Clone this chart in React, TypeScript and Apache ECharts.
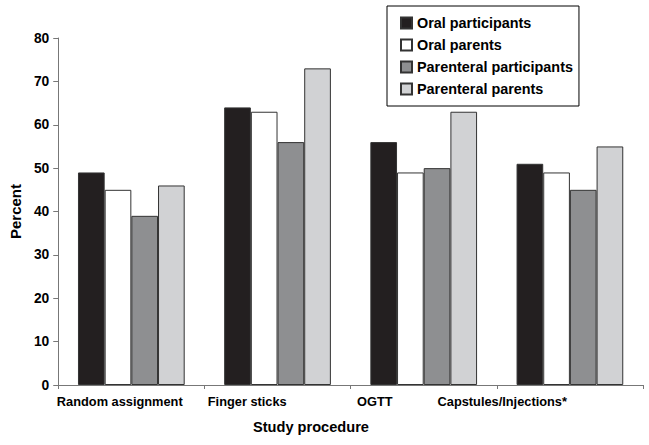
import React, { useEffect, useRef } from "react";
import * as echarts from "echarts";

const categories = ["Random assignment", "Finger sticks", "OGTT", "Capstules/Injections*"];
const seriesNames = ["Oral participants", "Oral parents", "Parenteral participants", "Parenteral parents"];
const oralParticipants = [49, 64, 56, 51];
const oralParents = [45, 63, 49, 49];
const parenteralParticipants = [39, 56, 50, 45];
const parenteralParents = [46, 73, 63, 55];
const yTicks = { min: 0, max: 80, interval: 10 };

const colors = ["#231f20", "#ffffff", "#8e8f91", "#d1d2d4"];
const FONT = "'Liberation Sans', Arial, Helvetica, sans-serif";

export default function App() {
  const ref = useRef<HTMLDivElement>(null);
  useEffect(() => {
    if (!ref.current) return;
    const chart = echarts.init(ref.current, undefined, { renderer: "svg" });
    const values = [oralParticipants, oralParents, parenteralParticipants, parenteralParents];
    chart.setOption({
      animation: false,
      backgroundColor: "#ffffff",
      textStyle: { fontFamily: FONT },
      grid: [
        { left: 55, right: 6, top: 38, bottom: 60 },
        { left: 56, width: 510, top: 38, bottom: 60 },
      ],
      legend: {
        orient: "vertical",
        left: 387,
        top: 6,
        padding: [10, 6, 10, 13],
        borderColor: "#000",
        borderWidth: 1,
        itemWidth: 11,
        itemHeight: 11,
        itemGap: 8,
        itemTextGap: 5,
        icon: "rect",
        data: seriesNames,
        textStyle: { fontFamily: FONT, fontWeight: "bold", fontSize: 14.4, color: "#000" },
      },
      xAxis: [
        {
          type: "category",
          gridIndex: 0,
          data: categories,
          axisLine: { lineStyle: { color: "#777", width: 1 } },
          axisTick: { show: true, length: 4, lineStyle: { color: "#777" } },
          axisLabel: { show: false },
        },
        {
          type: "category",
          gridIndex: 1,
          data: categories,
          axisLine: { show: false },
          axisTick: { show: false },
          axisLabel: {
            show: true,
            interval: 0,
            margin: 10,
            fontFamily: FONT,
            fontWeight: "bold",
            fontSize: 12.8,
            color: "#000",
          },
          name: "Study procedure",
          nameLocation: "middle",
          nameGap: 34,
          nameTextStyle: { fontFamily: FONT, fontWeight: "bold", fontSize: 14.6, color: "#000" },
        },
      ],
      yAxis: [
        {
          type: "value",
          gridIndex: 0,
          min: yTicks.min,
          max: yTicks.max,
          interval: yTicks.interval,
          splitLine: { show: false },
          axisLine: { show: true, lineStyle: { color: "#777", width: 1 } },
          axisTick: { show: true, length: 5, lineStyle: { color: "#777" } },
          axisLabel: { margin: 9, fontFamily: FONT, fontWeight: "bold", fontSize: 13.8, color: "#000" },
          name: "Percent",
          nameLocation: "middle",
          nameGap: 35,
          nameTextStyle: { fontFamily: FONT, fontWeight: "bold", fontSize: 15, color: "#000" },
        },
        {
          type: "value",
          gridIndex: 1,
          min: yTicks.min,
          max: yTicks.max,
          show: false,
        },
      ],
      series: seriesNames.map((name, i) => ({
        name,
        type: "bar",
        xAxisIndex: 0,
        yAxisIndex: 0,
        data: values[i],
        barGap: "0%",
        barCategoryGap: "27%",
        itemStyle: { color: colors[i], borderColor: "#333", borderWidth: 1 },
      })),
    });
    return () => chart.dispose();
  }, []);
  return (
    <div
      ref={ref}
      style={{ position: "fixed", left: 0, top: 0, width: 649, height: 445, background: "#fff" }}
    />
  );
}
